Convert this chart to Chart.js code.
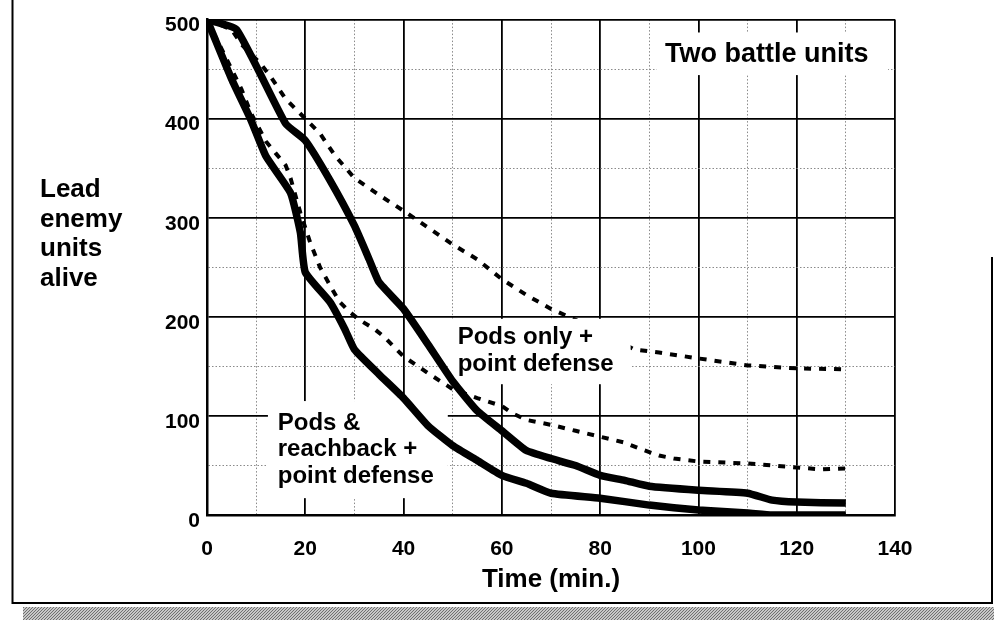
<!DOCTYPE html>
<html>
<head>
<meta charset="utf-8">
<script src="https://cdn.jsdelivr.net/npm/chart.js@4.4.1/dist/chart.umd.min.js"></script>
<style>
  html, body { margin: 0; padding: 0; background: #fff; }
  #wrap { position: relative; width: 994px; height: 620px; }
</style>
</head>
<body>
<div id="wrap"><canvas id="myLineChart" width="994" height="620"></canvas></div>
<script>
// Time axis (minutes) and units alive
const podsOnlyPdTime = [0, 6, 16, 20, 25, 30, 33, 35, 40, 45, 50, 55, 60, 65, 70, 75, 80, 85, 90, 100, 110, 115, 120, 130];
const podsOnlyPdAlive = [500, 490, 395, 378, 338, 292, 258, 235, 208, 172, 135, 105, 85, 65, 57, 50, 40, 35, 29, 25, 22, 15, 13, 12];

const reachbackPdTime = [0, 5, 9, 12, 17, 19, 20, 25, 28, 30, 35, 40, 45, 50, 55, 60, 65, 70, 80, 90, 100, 110, 115, 130];
const reachbackPdAlive = [500, 440, 398, 362, 325, 285, 245, 215, 188, 167, 142, 118, 90, 70, 55, 40, 32, 22, 17, 10, 5, 2, 0, 0];

const podsOnlyTime = [0, 5, 7, 11, 13, 16, 20, 23, 26, 30, 35, 40, 45, 50, 55, 60, 65, 70, 75, 87, 92, 100, 110, 120, 130];
const podsOnlyAlive = [500, 490, 475, 455, 442, 420, 400, 385, 363, 340, 323, 307, 290, 273, 258, 238, 222, 208, 197, 167, 164, 158, 151, 148, 147];

const reachbackTime = [0, 5, 7, 9, 12, 14, 16, 17, 19, 21, 23, 25, 27, 29, 31, 34, 36, 38, 40, 45, 50, 55, 60, 62, 65, 70, 75, 80, 85, 88, 92, 95, 100, 110, 115, 120, 125, 130];
const reachbackAlive = [500, 450, 430, 405, 377, 365, 353, 340, 305, 275, 250, 232, 215, 205, 197, 188, 180, 170, 160, 143, 127, 118, 110, 103, 96, 91, 85, 79, 73, 67, 60, 57, 54, 52, 50, 48, 46, 47];

const xTicks = [0, 20, 40, 60, 80, 100, 120, 140];
const yTicks = [0, 100, 200, 300, 400, 500];

const FONT = '"Liberation Sans", Arial, Helvetica, sans-serif';

function toPoints(times, values) {
    return times.map((t, i) => ({ x: t, y: values[i] }));
}

// white boxes with the curve labels, they sit over the grid and the dashed lines
function labelBox(chart, x0, x1, y0, y1, lines, size, tx, ty, lh) {
    const c = chart.ctx, xs = chart.scales.x, ys = chart.scales.y;
    c.save();
    c.fillStyle = '#fff';
    const px0 = xs.getPixelForValue(x0), px1 = xs.getPixelForValue(x1);
    const py0 = ys.getPixelForValue(y0), py1 = ys.getPixelForValue(y1);
    c.fillRect(px0, py0, px1 - px0, py1 - py0);
    c.fillStyle = '#000';
    c.font = 'bold ' + size + 'px ' + FONT;
    c.textAlign = 'left';
    c.textBaseline = 'alphabetic';
    const bx = xs.getPixelForValue(tx), by = ys.getPixelForValue(ty);
    lines.forEach((s, i) => c.fillText(s, bx, by + i * lh));
    c.restore();
}

const decoPlugin = {
    id: 'deco',
    beforeDraw(chart) {
        const c = chart.ctx;
        c.save();
        // page frame
        c.strokeStyle = '#000';
        c.lineWidth = 2;
        c.beginPath();
        c.moveTo(12.5, 0);
        c.lineTo(12.5, 603);
        c.lineTo(992, 603);
        c.lineTo(992, 257);
        c.stroke();
        // grey dithered band along the bottom
        const pc = document.createElement('canvas');
        pc.width = 3; pc.height = 3;
        const p = pc.getContext('2d');
        p.fillStyle = '#c8c8c8'; p.fillRect(0, 0, 3, 3);
        p.fillStyle = '#707070';
        p.fillRect(0, 0, 1, 1); p.fillRect(2, 1, 1, 1); p.fillRect(1, 2, 1, 1);
        c.fillStyle = c.createPattern(pc, 'repeat');
        c.fillRect(23, 607, 971, 13);
        c.restore();
    },
    afterDatasetDraw(chart, args) {
        if (args.index !== 2) return;
        labelBox(chart, 91.5, 138.6, 487, 444, ['Two battle units'], 27, 93.2, 457, 0);
        labelBox(chart, 49.2, 86.2, 198, 132, ['Pods only +', 'point defense'], 24, 51, 172.5, 27);
        labelBox(chart, 12.4, 49, 115, 17, ['Pods &', 'reachback +', 'point defense'], 24, 14.4, 86, 26.5);
    },
    afterDraw(chart) {
        const c = chart.ctx;
        c.save();
        c.fillStyle = '#000';
        c.font = 'bold 26px ' + FONT;
        c.textAlign = 'left';
        c.textBaseline = 'alphabetic';
        ['Lead', 'enemy', 'units', 'alive'].forEach((s, i) => c.fillText(s, 40, 197 + i * 29.7));
        c.textAlign = 'center';
        const xs = chart.scales.x;
        c.fillText('Time (min.)', (xs.left + xs.right) / 2, 587);
        c.restore();
    }
};

const ctx = document.getElementById('myLineChart').getContext('2d');

new Chart(ctx, {
    type: 'line',
    data: {
        datasets: [
            {
                label: 'Pods only + point defense',
                data: toPoints(podsOnlyPdTime, podsOnlyPdAlive),
                borderColor: '#000',
                borderWidth: 7.5,
                borderJoinStyle: 'round',
                pointRadius: 0,
                tension: 0.15
            },
            {
                label: 'Pods & reachback + point defense',
                data: toPoints(reachbackPdTime, reachbackPdAlive),
                borderColor: '#000',
                borderWidth: 7.5,
                borderJoinStyle: 'round',
                pointRadius: 0,
                tension: 0.15
            },
            {
                label: 'Pods only',
                data: toPoints(podsOnlyTime, podsOnlyAlive),
                borderColor: '#000',
                borderWidth: 4,
                borderDash: [7, 8],
                pointRadius: 0,
                tension: 0
            },
            {
                label: 'Pods & reachback',
                data: toPoints(reachbackTime, reachbackAlive),
                borderColor: '#000',
                borderWidth: 4,
                borderDash: [7, 8],
                pointRadius: 0,
                tension: 0
            }
        ]
    },
    options: {
        responsive: false,
        animation: false,
        devicePixelRatio: 1,
        layout: {
            padding: { left: 0, right: 99, top: 17, bottom: 0 }
        },
        scales: {
            x: {
                type: 'linear',
                min: 0,
                max: 140,
                afterFit: s => { s.height = 105; },
                grid: {
                    drawTicks: false,
                    color: c => (c.tick && c.tick.value % 20 === 0) ? '#000' : '#8a8a8a',
                    lineWidth: c => (c.tick && c.tick.value % 20 === 0) ? 1.8 : 1
                },
                border: {
                    color: '#000',
                    width: 2.5,
                    dash: c => (c.tick && c.tick.value % 20 !== 0) ? [1.5, 2] : []
                },
                ticks: {
                    stepSize: 10,
                    autoSkip: false,
                    maxRotation: 0,
                    padding: 22,
                    color: '#000',
                    font: { family: FONT, size: 21, weight: 'bold' },
                    callback: v => xTicks.includes(v) ? String(v) : ''
                }
            },
            y: {
                min: 0,
                max: 500,
                afterFit: s => { s.width = 207; },
                grid: {
                    drawTicks: false,
                    color: c => (c.tick && c.tick.value % 100 === 0) ? '#000' : '#8a8a8a',
                    lineWidth: c => (c.tick && c.tick.value % 100 === 0) ? 1.8 : 1
                },
                border: {
                    color: '#000',
                    width: 2.5,
                    dash: c => (c.tick && c.tick.value % 100 !== 0) ? [1.5, 2] : []
                },
                ticks: {
                    stepSize: 50,
                    autoSkip: false,
                    padding: 7,
                    labelOffset: 6,
                    color: '#000',
                    font: { family: FONT, size: 21, weight: 'bold' },
                    callback: v => yTicks.includes(v) ? String(v) : ''
                }
            }
        },
        plugins: {
            legend: { display: false },
            tooltip: { enabled: false }
        }
    },
    plugins: [decoPlugin]
});
</script>
</body>
</html>
